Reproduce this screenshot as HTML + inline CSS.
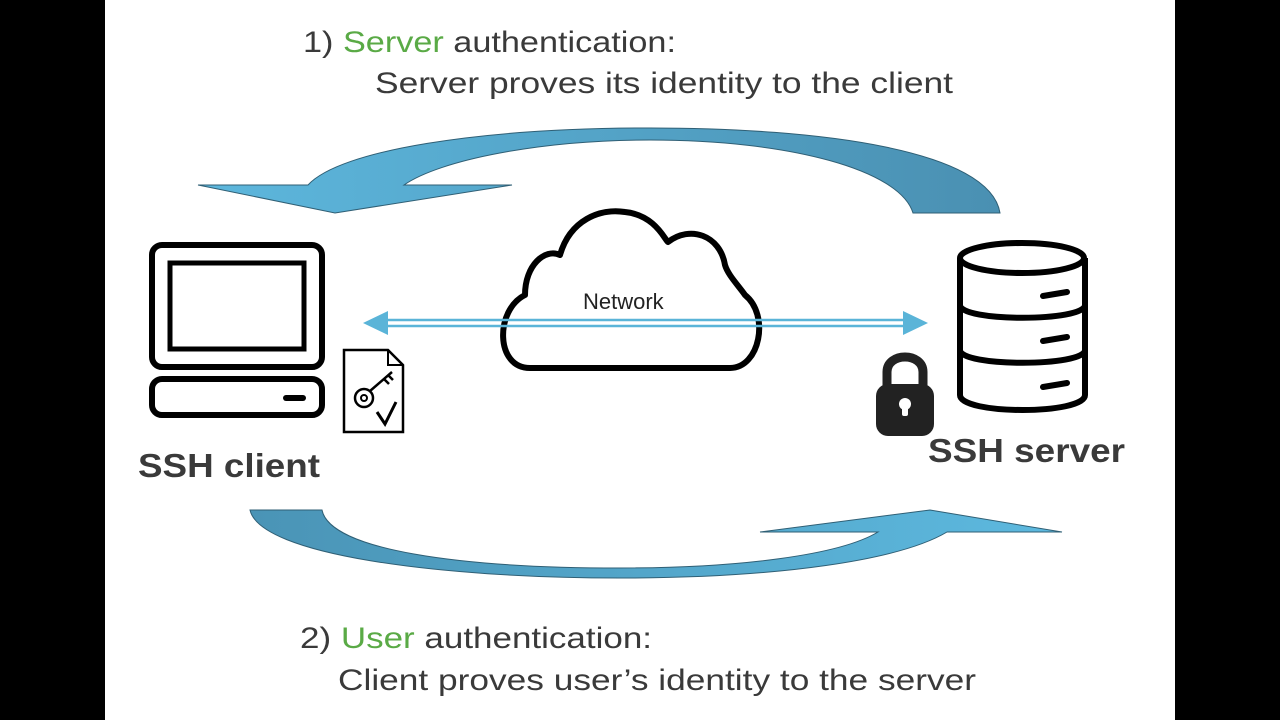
<!DOCTYPE html>
<html><head><meta charset="utf-8"><style>
html,body{margin:0;padding:0;background:#000;}
svg{display:block;}
text{font-family:"Liberation Sans",sans-serif;}
</style></head><body>
<svg width="1280" height="720" viewBox="0 0 1280 720" xmlns="http://www.w3.org/2000/svg">
<defs>
<linearGradient id="g1" x1="0" x2="1" y1="0" y2="0">
<stop offset="0" stop-color="#5db7dd"/><stop offset="1" stop-color="#4a90b2"/></linearGradient>
<linearGradient id="g2" x1="0" x2="1" y1="0" y2="0">
<stop offset="0" stop-color="#4a94b6"/><stop offset="1" stop-color="#5db9df"/></linearGradient>
</defs>
<rect x="105" y="0" width="1070" height="720" fill="#fff"/>

<text x="303" y="52" font-size="30" fill="#3a3a3a" textLength="373" lengthAdjust="spacingAndGlyphs">1) <tspan fill="#5aaa46">Server</tspan> authentication:</text>
<text x="375" y="93" font-size="30" fill="#3a3a3a" textLength="578" lengthAdjust="spacingAndGlyphs">Server proves its identity to the client</text>

<text x="300" y="648" font-size="30" fill="#3a3a3a" textLength="352" lengthAdjust="spacingAndGlyphs">2) <tspan fill="#5aaa46">User</tspan> authentication:</text>
<text x="338" y="690" font-size="30" fill="#3a3a3a" textLength="638" lengthAdjust="spacingAndGlyphs">Client proves user’s identity to the server</text>

<!-- top arrow -->
<path d="M1000,213 C990,150 820,128 650,128 C480,128 340,150 308,185 L198,185 L335,213 L512,185 L404,185 C440,160 540,140 650,140 C790,140 900,170 913,213 Z" fill="url(#g1)" stroke="#2f5f75" stroke-width="1"/>
<!-- bottom arrow -->
<path d="M250,510 C260,555 440,578 620,578 C780,578 900,560 947,532 L1062,532 L930,510 L760,532 L878,532 C840,555 740,568 620,568 C460,568 330,550 322,510 Z" fill="url(#g2)" stroke="#2f5f75" stroke-width="1"/>

<!-- client computer -->
<rect x="152" y="245" width="170" height="122" rx="10" fill="none" stroke="#000" stroke-width="6"/>
<rect x="170" y="263" width="134" height="86" fill="none" stroke="#000" stroke-width="5"/>
<rect x="152" y="379" width="170" height="36" rx="10" fill="none" stroke="#000" stroke-width="6"/>
<line x1="286" y1="398" x2="303" y2="398" stroke="#000" stroke-width="6" stroke-linecap="round"/>
<!-- cert icon -->
<path d="M344,350 L388,350 L403,365 L403,432 L344,432 Z" fill="#fff" stroke="#000" stroke-width="2.5"/>
<path d="M388,350 L388,365 L403,365" fill="none" stroke="#000" stroke-width="2"/>
<circle cx="364" cy="398" r="9" fill="none" stroke="#000" stroke-width="2.5"/>
<circle cx="364" cy="398" r="3" fill="none" stroke="#000" stroke-width="2"/>
<path d="M370,391 L392,372 M384,379 L389,384 M388,375 L393,380" stroke="#000" stroke-width="2.5" fill="none"/>
<path d="M377,412 L385,424 L396,402" stroke="#000" stroke-width="3" fill="none"/>
<text x="138" y="477" font-size="33" font-weight="bold" fill="#3a3a3a" textLength="182" lengthAdjust="spacingAndGlyphs">SSH client</text>

<!-- cloud -->
<path d="M530,368 C495,368 495,310 525,295 C525,265 545,248 560,255 C570,220 600,208 625,212 C655,215 665,240 668,242 C690,225 720,235 725,265 C728,275 738,285 745,295 C770,315 760,368 730,368 Z" fill="#fff" stroke="#000" stroke-width="6" stroke-linejoin="round"/>
<text x="583" y="309" font-size="22" fill="#222">Network</text>

<!-- double arrow -->
<line x1="385" y1="320" x2="905" y2="320" stroke="#5ab4d8" stroke-width="2.5"/>
<line x1="385" y1="326" x2="905" y2="326" stroke="#5ab4d8" stroke-width="2.5"/>
<polygon points="363,323 388,311 388,335" fill="#5ab4d8"/>
<polygon points="928,323 903,311 903,335" fill="#5ab4d8"/>

<!-- server db -->
<path d="M960,258 L960,395 C960,415 1085,415 1085,395 L1085,258" fill="#fff" stroke="#000" stroke-width="6"/>
<ellipse cx="1022" cy="258" rx="62" ry="15" fill="#fff" stroke="#000" stroke-width="6"/>
<path d="M960,305 C960,322 1085,322 1085,305" fill="none" stroke="#000" stroke-width="6"/>
<path d="M960,350 C960,367 1085,367 1085,350" fill="none" stroke="#000" stroke-width="6"/>
<path d="M1043,296 L1067,292 M1043,341 L1067,337 M1043,387 L1067,383" stroke="#000" stroke-width="6" stroke-linecap="round"/>
<!-- lock -->
<path d="M887,390 L887,372 C887,352 923,352 923,372 L923,390" fill="none" stroke="#222" stroke-width="9"/>
<rect x="876" y="384" width="58" height="52" rx="12" fill="#222"/>
<circle cx="905" cy="404" r="6" fill="#fff"/>
<rect x="902" y="404" width="6" height="12" rx="2" fill="#fff"/>
<text x="928" y="462" font-size="33" font-weight="bold" fill="#3a3a3a" textLength="197" lengthAdjust="spacingAndGlyphs">SSH server</text>
</svg>
</body></html>
